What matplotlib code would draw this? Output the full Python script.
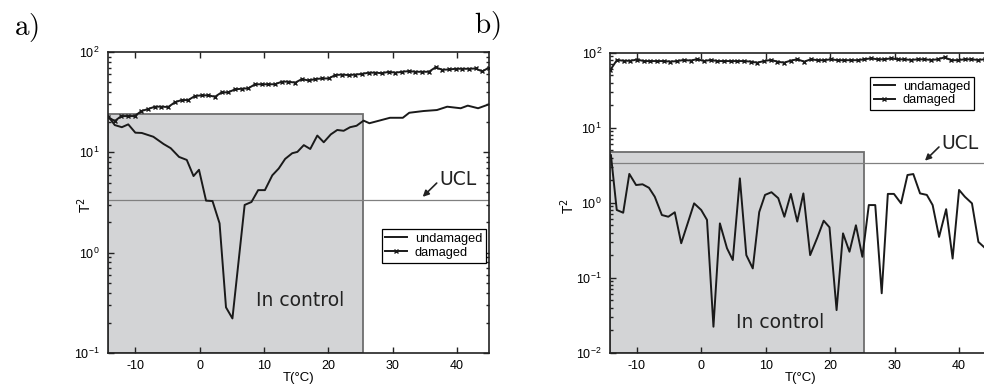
import numpy as np
import matplotlib
matplotlib.use("Agg")
import matplotlib.pyplot as plt
from matplotlib.patches import Rectangle
from matplotlib.ticker import LogLocator, NullFormatter

plt.rcParams['font.family'] = ['Liberation Sans', 'DejaVu Sans']
plt.rcParams['axes.unicode_minus'] = False

# ---------------- data: panel a ----------------
Ta_und = [-14.25, -13.2, -12.1, -11.1, -10.0, -9.0, -7.2, -5.6, -4.5, -3.2, -2.0, -0.95,
          -0.1, 1.0, 2.0, 3.1, 4.1, 5.1, 7.0, 8.06, 9.1, 10.15, 11.3, 12.3, 13.3, 14.4,
          15.2, 16.2, 17.2, 18.3, 19.3, 20.4, 21.4, 22.4, 23.4, 24.4, 25.5, 26.4, 29.6,
          31.6, 32.6, 34.8, 36.9, 38.5, 40.6, 41.7, 43.3, 45.0]
a_undamaged = [23.0, 18.7, 17.8, 19.0, 15.7, 15.6, 14.3, 12.1, 11.0, 9.0, 8.4, 5.8,
               6.7, 3.3, 3.27, 1.96, 0.285, 0.221, 2.99, 3.2, 4.2, 4.2, 5.9, 6.9, 8.6, 9.8,
               10.1, 11.8, 10.8, 14.7, 12.6, 15.1, 16.7, 16.4, 17.8, 18.4, 20.7, 19.5, 22.1,
               22.1, 24.8, 25.8, 26.4, 28.5, 27.5, 29.2, 27.5, 30.1]

Ta_dam = np.linspace(-14.25, 45.0, 58)
a_damaged = [22.5, 20.5, 23.0, 23.0, 23.0, 25.8, 27.0, 28.5, 28.5, 28.3,
             31.5, 33.2, 33.2, 36.4, 37.0, 37.0, 35.8, 39.6, 39.6, 42.5,
             43.0, 43.5, 47.7, 47.7, 47.7, 47.7, 50.6, 50.6, 49.5, 53.7,
             52.0, 53.7, 54.5, 54.5, 58.9, 59.5, 58.9, 59.5, 60.5, 62.2,
             62.2, 61.5, 63.5, 62.2, 63.5, 64.5, 63.5, 63.5, 63.5, 70.3,
             66.5, 67.0, 68.0, 68.0, 68.0, 68.5, 64.0, 70.0]

# ---------------- data: panel b ----------------
Tb_und = [-14.0, -13.1, -12.1, -11.15, -10.1, -9.1, -8.1, -7.2, -6.1, -5.1, -4.1, -3.1,
          -2.1, -1.1, 0.0, 0.9, 1.9, 2.9, 4.0, 4.9, 6.0, 7.0, 8.0, 9.0, 9.9, 10.9, 11.95,
          12.9, 13.9, 14.9, 15.85, 16.9, 18.0, 19.0, 19.9, 21.0, 22.0, 23.0, 24.0, 25.0,
          26.0, 27.0, 28.0, 28.95, 29.9, 31.0, 32.0, 32.9, 33.95, 35.0, 35.9, 36.9, 38.0,
          39.0, 40.0, 40.9, 42.0, 43.0, 44.0, 45.0]
b_undamaged = [4.3, 0.80, 0.735, 2.42, 1.72, 1.76, 1.58, 1.2, 0.685, 0.65, 0.745, 0.288,
               0.53, 0.98, 0.80, 0.59, 0.0222, 0.53, 0.247, 0.172, 2.11, 0.2, 0.133, 0.75,
               1.27, 1.38, 1.15, 0.65, 1.31, 0.56, 1.33, 0.2, 0.34, 0.575, 0.47, 0.037, 0.39,
               0.222, 0.50, 0.19, 0.93, 0.93, 0.062, 1.31, 1.31, 0.98, 2.34, 2.41, 1.33, 1.27,
               0.93, 0.35, 0.82, 0.18, 1.48, 1.2, 0.98, 0.30, 0.25, 0.22]

Tb_dam = np.linspace(-14.1, 45.0, 58)
b_damaged = [58.8, 80.0, 78.0, 78.0, 81.0, 77.4, 77.4, 77.4, 77.4, 76.0,
             77.4, 80.0, 78.5, 82.0, 77.4, 80.0, 77.4, 77.4, 77.4, 77.4,
             77.4, 76.0, 73.6, 77.4, 80.0, 76.0, 73.6, 78.5, 81.6, 76.0,
             81.6, 79.5, 79.5, 81.6, 79.5, 79.5, 79.5, 79.5, 81.6, 84.1,
             81.6, 81.6, 84.1, 81.6, 81.6, 80.0, 81.6, 81.6, 80.0, 81.6,
             86.8, 79.5, 79.5, 81.6, 81.6, 80.0, 81.6, 81.6]

ucl_a, ucl_b = 3.32, 3.35
box_a = (25.4, 24.1)   # right edge T, top T^2
box_b = (25.3, 4.75)
xlim_a = (-14.25, 45.0)
xlim_b = (-14.1, 45.0)
ylim_a = (0.1, 100)
ylim_b = (0.01, 100)
xticks = [-10, 0, 10, 20, 30, 40]

W, H = 984, 388
fig = plt.figure(figsize=(W / 100, H / 100), dpi=100)

def px_axes(left, top, right, bottom):
    return fig.add_axes([left / W, 1 - bottom / H, (right - left) / W, (bottom - top) / H])

ax_a = px_axes(108, 52, 489, 353)
ax_b = px_axes(610.3, 52.7, 991.3, 352.7)

line_col = '#1a1a1a'

def style(ax, xlim, ylim, box, ucl, legend_anchor, incontrol_xy, ucl_xy, arrow_from, arrow_to,
          T_und, und, T_dam, dam, ylabel_x):
    ax.set_yscale('log')
    ax.set_xlim(*xlim)
    ax.set_ylim(*ylim)
    ax.add_patch(Rectangle((xlim[0], ylim[0]), box[0] - xlim[0], box[1] - ylim[0],
                           facecolor='#d3d4d6', edgecolor='#6e6e6e', lw=1.3, zorder=1))
    ax.axhline(ucl, color='#808080', lw=0.9, zorder=2)
    ax.plot(T_und, und, color=line_col, lw=1.4, label='undamaged', zorder=3)
    ax.plot(T_dam, dam, color=line_col, lw=1.4, marker='x', ms=2.8, mew=1.0,
            label='damaged', zorder=3)
    ax.set_xticks(xticks)
    ax.yaxis.set_major_locator(LogLocator(base=10, numticks=10))
    ax.yaxis.set_minor_locator(LogLocator(base=10, subs=np.arange(2, 10), numticks=10))
    ax.yaxis.set_minor_formatter(NullFormatter())
    ax.tick_params(which='both', direction='in', top=True, right=True, labelsize=9,
                   width=1.0, color='#222222')
    ax.tick_params(which='major', length=4)
    ax.tick_params(which='minor', length=2.2)
    ax.tick_params(axis='x', pad=5)
    ax.tick_params(axis='y', pad=6)
    for sp in ax.spines.values():
        sp.set_linewidth(1.2)
        sp.set_color('#222222')
    ax.set_xlabel('T(°C)', fontsize=9.5, labelpad=0)
    ax.set_ylabel(r'T$^2$', fontsize=10)
    ax.yaxis.set_label_coords(ylabel_x, 0.49)
    leg = ax.legend(loc='upper right', bbox_to_anchor=legend_anchor, fontsize=9.2,
                    frameon=True, fancybox=False, edgecolor='black', framealpha=1,
                    handlelength=1.7, handletextpad=0.6, labelspacing=0.15,
                    borderpad=0.3, borderaxespad=0, numpoints=1)
    leg.get_frame().set_linewidth(0.9)
    ax.text(incontrol_xy[0], incontrol_xy[1], 'In control', fontsize=13.5,
            family='DejaVu Sans', ha='center', va='center', color='#222222', zorder=4)
    ax.text(ucl_xy[0], ucl_xy[1], 'UCL', fontsize=13.5, family='DejaVu Sans',
            ha='center', va='center', color='#222222', zorder=4)
    ax.annotate('', xy=arrow_to, xytext=arrow_from,
                arrowprops=dict(arrowstyle='-|>', lw=1.2, color='#222222',
                                mutation_scale=9, shrinkA=0, shrinkB=0))

style(ax_a, xlim_a, ylim_a, box_a, ucl_a, (0.992, 0.412), (15.56, 0.336), (40.2, 5.42),
      (36.87, 4.94), (34.69, 3.6), Ta_und, a_undamaged, Ta_dam, a_damaged, -0.037)
style(ax_b, xlim_b, ylim_b, box_b, ucl_b, (0.955, 0.92), (12.3, 0.0249), (40.2, 6.2),
      (36.88, 5.53), (34.71, 3.63), Tb_und, b_undamaged, Tb_dam, b_damaged, -0.087)

fig.text(26 / W, 1 - 27 / H, r'$\mathrm{a)}$', fontsize=21, math_fontfamily='cm',
         ha='center', va='center')
fig.text(487 / W, 1 - 26 / H, r'$\mathrm{b)}$', fontsize=21, math_fontfamily='cm',
         ha='center', va='center')

fig.savefig('out.png', dpi=100)
